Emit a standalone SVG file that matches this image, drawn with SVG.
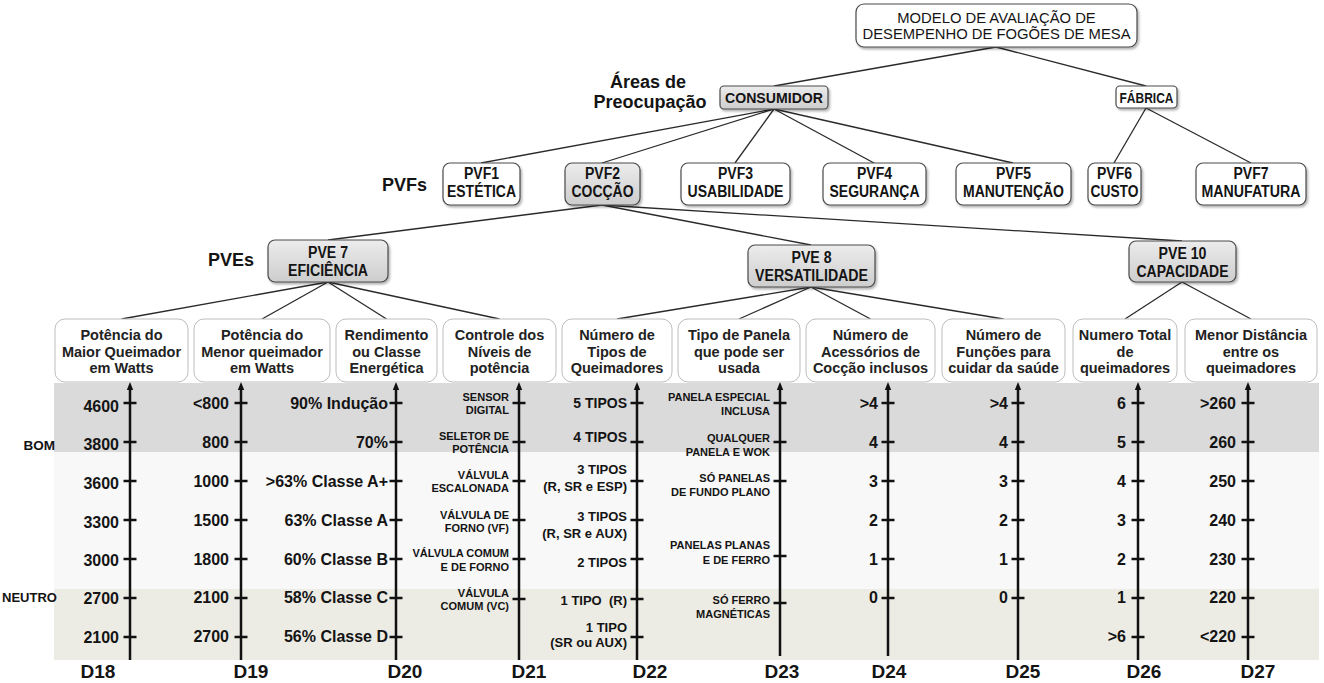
<svg xmlns="http://www.w3.org/2000/svg" width="1324" height="683" viewBox="0 0 1324 683">
<defs>
<style>
text{font-family:"Liberation Sans",Arial,sans-serif;fill:#141414}
.box{fill:#fff;stroke:#4a4a4a;stroke-width:1.2}
.gbox{fill:url(#gr);stroke:#4a4a4a;stroke-width:1.2}
.crit{fill:#fff;stroke:#bdbdbd;stroke-width:1}
.nar{font-size:16px;font-weight:bold;text-anchor:middle}
.top{font-size:14.8px;text-anchor:middle}
.ct{font-size:14.5px;font-weight:bold;text-anchor:middle;fill:#222}
.big{font-size:18px;font-weight:bold}
.num{font-size:16px;font-weight:bold;text-anchor:end}
.sm{font-size:11px;font-weight:bold;text-anchor:end}
.md{font-size:13px;font-weight:bold;text-anchor:end}
.dl{font-size:19px;font-weight:bold;text-anchor:middle}
.side{font-size:13.5px;font-weight:bold;text-anchor:end}
.con line{stroke:#2a2a2a;stroke-width:1.3}
.ax{stroke:#111;stroke-width:2.5;marker-start:url(#arr)}
.tk{stroke:#111;stroke-width:2.6}
</style>
<linearGradient id="gr" x1="0" y1="0" x2="0" y2="1">
<stop offset="0" stop-color="#ececec"/><stop offset="1" stop-color="#cdcdcd"/>
</linearGradient>
<filter id="sh" x="-10%" y="-10%" width="130%" height="140%">
<feDropShadow dx="1.5" dy="2" stdDeviation="1.2" flood-color="#000" flood-opacity="0.3"/>
</filter>
<marker id="arr" viewBox="0 0 8 8" refX="2" refY="4" markerWidth="8" markerHeight="8" markerUnits="userSpaceOnUse" orient="auto-start-reverse">
<path d="M0,0.8 L8,4 L0,7.2 z" fill="#111"/>
</marker>
</defs>

<g id="bands">
<rect x="54" y="383" width="1265" height="69" fill="#dadada"/>
<rect x="54" y="452" width="1265" height="137" fill="#f8f8f8"/>
<rect x="54" y="589" width="1265" height="71" fill="#edece4"/>
</g>

<g id="connectors" class="con">
<line x1="996" y1="47" x2="774" y2="86"/>
<line x1="996" y1="47" x2="1146" y2="86"/>
<line x1="774" y1="109" x2="481" y2="163"/>
<line x1="774" y1="109" x2="602" y2="163"/>
<line x1="774" y1="109" x2="735" y2="163"/>
<line x1="774" y1="109" x2="874" y2="163"/>
<line x1="774" y1="109" x2="1013" y2="163"/>
<line x1="1146" y1="108" x2="1114" y2="163"/>
<line x1="1146" y1="108" x2="1251" y2="163"/>
<line x1="602" y1="205" x2="328" y2="240"/>
<line x1="602" y1="205" x2="811" y2="245"/>
<line x1="602" y1="205" x2="1182" y2="241"/>
<line x1="328" y1="282" x2="121.5" y2="319"/>
<line x1="328" y1="282" x2="262" y2="319"/>
<line x1="328" y1="282" x2="386.5" y2="319"/>
<line x1="328" y1="282" x2="499.5" y2="319"/>
<line x1="811" y1="287" x2="617" y2="319"/>
<line x1="811" y1="287" x2="739" y2="319"/>
<line x1="811" y1="287" x2="870.5" y2="319"/>
<line x1="811" y1="287" x2="1003.5" y2="319"/>
<line x1="1182" y1="282" x2="1125" y2="319"/>
<line x1="1182" y1="282" x2="1251" y2="319"/>
</g>

<g id="root">
<rect class="box" x="856" y="4" width="281" height="43" rx="8" filter="url(#sh)"/>
<text class="top" x="996.5" y="23">MODELO DE AVALIAÇÃO DE</text>
<text class="top" x="996.5" y="39">DESEMPENHO DE FOGÕES DE MESA</text>
</g>

<g id="lbl-areas">
<text class="big" x="648" y="88" text-anchor="middle">Áreas de</text>
<text class="big" x="650" y="108" text-anchor="middle">Preocupação</text>
</g>
<g id="lbl-pvfs"><text class="big" x="382" y="191">PVFs</text></g>
<g id="lbl-pves"><text class="big" x="208" y="266">PVEs</text></g>

<g id="consumidor">
<rect class="gbox" x="720" y="86" width="108" height="23" rx="4" filter="url(#sh)"/>
<text class="nar" x="774" y="103" style="font-size:15px" textLength="98" lengthAdjust="spacingAndGlyphs">CONSUMIDOR</text>
</g>
<g id="fabrica">
<rect class="box" x="1116" y="86" width="61" height="22" rx="4" filter="url(#sh)"/>
<text class="nar" x="1146.5" y="103" style="font-size:15px" textLength="54" lengthAdjust="spacingAndGlyphs">FÁBRICA</text>
</g>

<g id="pvf1">
<rect class="box" x="443" y="163" width="77" height="42" rx="7" filter="url(#sh)"/>
<text class="nar" x="481.5" y="179" textLength="35" lengthAdjust="spacingAndGlyphs">PVF1</text>
<text class="nar" x="481.5" y="197" textLength="69" lengthAdjust="spacingAndGlyphs">ESTÉTICA</text>
</g>
<g id="pvf2">
<rect class="gbox" x="565" y="163" width="75" height="42" rx="7" filter="url(#sh)"/>
<text class="nar" x="602.5" y="179" textLength="35" lengthAdjust="spacingAndGlyphs">PVF2</text>
<text class="nar" x="602.5" y="197" textLength="62" lengthAdjust="spacingAndGlyphs">COCÇÃO</text>
</g>
<g id="pvf3">
<rect class="box" x="681" y="163" width="109" height="42" rx="7" filter="url(#sh)"/>
<text class="nar" x="735.5" y="179" textLength="35" lengthAdjust="spacingAndGlyphs">PVF3</text>
<text class="nar" x="735.5" y="197" textLength="96" lengthAdjust="spacingAndGlyphs">USABILIDADE</text>
</g>
<g id="pvf4">
<rect class="box" x="823" y="163" width="103" height="42" rx="7" filter="url(#sh)"/>
<text class="nar" x="874.5" y="179" textLength="35" lengthAdjust="spacingAndGlyphs">PVF4</text>
<text class="nar" x="874.5" y="197" textLength="90" lengthAdjust="spacingAndGlyphs">SEGURANÇA</text>
</g>
<g id="pvf5">
<rect class="box" x="956" y="163" width="115" height="42" rx="7" filter="url(#sh)"/>
<text class="nar" x="1013.5" y="179" textLength="35" lengthAdjust="spacingAndGlyphs">PVF5</text>
<text class="nar" x="1013.5" y="197" textLength="101" lengthAdjust="spacingAndGlyphs">MANUTENÇÃO</text>
</g>
<g id="pvf6">
<rect class="box" x="1088" y="163" width="53" height="42" rx="7" filter="url(#sh)"/>
<text class="nar" x="1114.5" y="179" textLength="35" lengthAdjust="spacingAndGlyphs">PVF6</text>
<text class="nar" x="1114.5" y="197" textLength="48" lengthAdjust="spacingAndGlyphs">CUSTO</text>
</g>
<g id="pvf7">
<rect class="box" x="1196" y="163" width="110" height="42" rx="7" filter="url(#sh)"/>
<text class="nar" x="1251" y="179" textLength="35" lengthAdjust="spacingAndGlyphs">PVF7</text>
<text class="nar" x="1251" y="197" textLength="99" lengthAdjust="spacingAndGlyphs">MANUFATURA</text>
</g>

<g id="pve7">
<rect class="gbox" x="268" y="240" width="120" height="42" rx="7" filter="url(#sh)"/>
<text class="nar" x="328" y="258" textLength="40" lengthAdjust="spacingAndGlyphs">PVE 7</text>
<text class="nar" x="328" y="276" textLength="80" lengthAdjust="spacingAndGlyphs">EFICIÊNCIA</text>
</g>
<g id="pve8">
<rect class="gbox" x="748" y="245" width="127" height="42" rx="7" filter="url(#sh)"/>
<text class="nar" x="811.5" y="263" textLength="40" lengthAdjust="spacingAndGlyphs">PVE 8</text>
<text class="nar" x="811.5" y="281" textLength="113" lengthAdjust="spacingAndGlyphs">VERSATILIDADE</text>
</g>
<g id="pve10">
<rect class="gbox" x="1129" y="241" width="107" height="41" rx="7" filter="url(#sh)"/>
<text class="nar" x="1182.5" y="259" textLength="48" lengthAdjust="spacingAndGlyphs">PVE 10</text>
<text class="nar" x="1182.5" y="277" textLength="92" lengthAdjust="spacingAndGlyphs">CAPACIDADE</text>
</g>

<g id="c18"><rect class="crit" x="55" y="319" width="133" height="63" rx="10"/>
<text class="ct" x="121.5" y="340">Potência do</text><text class="ct" x="121.5" y="356.5">Maior Queimador</text><text class="ct" x="121.5" y="373">em Watts</text></g>
<g id="c19"><rect class="crit" x="194" y="319" width="136" height="63" rx="10"/>
<text class="ct" x="262" y="340">Potência do</text><text class="ct" x="262" y="356.5">Menor queimador</text><text class="ct" x="262" y="373">em Watts</text></g>
<g id="c20"><rect class="crit" x="336" y="319" width="101" height="63" rx="10"/>
<text class="ct" x="386.5" y="340">Rendimento</text><text class="ct" x="386.5" y="356.5">ou Classe</text><text class="ct" x="386.5" y="373">Energética</text></g>
<g id="c21"><rect class="crit" x="443" y="319" width="113" height="63" rx="10"/>
<text class="ct" x="499.5" y="340">Controle dos</text><text class="ct" x="499.5" y="356.5">Níveis de</text><text class="ct" x="499.5" y="373">potência</text></g>
<g id="c22"><rect class="crit" x="562" y="319" width="110" height="63" rx="10"/>
<text class="ct" x="617" y="340">Número de</text><text class="ct" x="617" y="356.5">Tipos de</text><text class="ct" x="617" y="373">Queimadores</text></g>
<g id="c23"><rect class="crit" x="678" y="319" width="122" height="63" rx="10"/>
<text class="ct" x="739" y="340">Tipo de Panela</text><text class="ct" x="739" y="356.5">que pode ser</text><text class="ct" x="739" y="373">usada</text></g>
<g id="c24"><rect class="crit" x="806" y="319" width="129" height="63" rx="10"/>
<text class="ct" x="870.5" y="340">Número de</text><text class="ct" x="870.5" y="356.5">Acessórios de</text><text class="ct" x="870.5" y="373">Cocção inclusos</text></g>
<g id="c25"><rect class="crit" x="942" y="319" width="123" height="63" rx="10"/>
<text class="ct" x="1003.5" y="340">Número de</text><text class="ct" x="1003.5" y="356.5">Funções para</text><text class="ct" x="1003.5" y="373">cuidar da saúde</text></g>
<g id="c26"><rect class="crit" x="1073" y="319" width="104" height="63" rx="10"/>
<text class="ct" x="1125" y="340">Numero Total</text><text class="ct" x="1125" y="356.5">de</text><text class="ct" x="1125" y="373">queimadores</text></g>
<g id="c27"><rect class="crit" x="1185" y="319" width="132" height="63" rx="10"/>
<text class="ct" x="1251" y="340">Menor Distância</text><text class="ct" x="1251" y="356.5">entre os</text><text class="ct" x="1251" y="373">queimadores</text></g>

<g id="side-labels">
<text class="side" x="55" y="450">BOM</text>
<text class="side" x="2" y="602" style="text-anchor:start;font-size:13px">NEUTRO</text>
</g>

<g id="scales">
<line class="ax" x1="130" y1="388" x2="130" y2="660"/>
<line class="ax" x1="241" y1="388" x2="241" y2="660"/>
<line class="ax" x1="396" y1="388" x2="396" y2="660"/>
<line class="ax" x1="519" y1="388" x2="519" y2="660"/>
<line class="ax" x1="637" y1="388" x2="637" y2="660"/>
<line class="ax" x1="780" y1="388" x2="780" y2="656"/>
<line class="ax" x1="888" y1="388" x2="888" y2="656"/>
<line class="ax" x1="1018" y1="388" x2="1018" y2="660"/>
<line class="ax" x1="1138" y1="388" x2="1138" y2="660"/>
<line class="ax" x1="1248" y1="388" x2="1248" y2="660"/>
<path class="tk" d="M123.5,403h13M123.5,442h13M123.5,481h13M123.5,520h13M123.5,559h13M123.5,598h13M123.5,637h13
M234.5,403h13M234.5,442h13M234.5,481h13M234.5,520h13M234.5,559h13M234.5,598h13M234.5,637h13
M389.5,403h13M389.5,442h13M389.5,481h13M389.5,520h13M389.5,559h13M389.5,598h13M389.5,637h13
M512.5,403h13M512.5,442h13M512.5,481h13M512.5,520h13M512.5,559h13M512.5,599h13
M630.5,403h13M630.5,442h13M630.5,481h13M630.5,520h13M630.5,559h13M630.5,599h13M630.5,637h13
M773.5,403h13M773.5,442h13M773.5,481h13M773.5,556h13M773.5,603h13
M881.5,403h13M881.5,442h13M881.5,481h13M881.5,520h13M881.5,559h13M881.5,598h13
M1011.5,403h13M1011.5,442h13M1011.5,481h13M1011.5,520h13M1011.5,559h13M1011.5,598h13
M1131.5,403h13M1131.5,442h13M1131.5,481h13M1131.5,520h13M1131.5,559h13M1131.5,598h13M1131.5,637h13
M1241.5,403h13M1241.5,442h13M1241.5,481h13M1241.5,520h13M1241.5,559h13M1241.5,598h13M1241.5,637h13"/>
</g>

<g id="d18-values">
<text class="num" x="119" y="412">4600</text><text class="num" x="119" y="450">3800</text><text class="num" x="119" y="489">3600</text><text class="num" x="119" y="528">3300</text><text class="num" x="119" y="566">3000</text><text class="num" x="119" y="604">2700</text><text class="num" x="119" y="643">2100</text>
</g>
<g id="d19-values">
<text class="num" x="229" y="409">&lt;800</text><text class="num" x="229" y="448">800</text><text class="num" x="229" y="487">1000</text><text class="num" x="229" y="526">1500</text><text class="num" x="229" y="565">1800</text><text class="num" x="229" y="603">2100</text><text class="num" x="229" y="642">2700</text>
</g>
<g id="d20-values">
<text class="num" x="388" y="409">90% Indução</text><text class="num" x="388" y="448">70%</text><text class="num" x="388" y="487">&gt;63% Classe A+</text><text class="num" x="388" y="526">63% Classe A</text><text class="num" x="388" y="565">60% Classe B</text><text class="num" x="388" y="603">58% Classe C</text><text class="num" x="388" y="642">56% Classe D</text>
</g>
<g id="d21-values">
<text class="sm" x="509" y="400.5">SENSOR</text><text class="sm" x="509" y="413.5">DIGITAL</text>
<text class="sm" x="509" y="439.5">SELETOR DE</text><text class="sm" x="509" y="452.5">POTÊNCIA</text>
<text class="sm" x="509" y="478.5">VÁLVULA</text><text class="sm" x="509" y="491.5">ESCALONADA</text>
<text class="sm" x="509" y="518.5">VÁLVULA DE</text><text class="sm" x="509" y="531.5">FORNO (VF)</text>
<text class="sm" x="509" y="556.5">VÁLVULA COMUM</text><text class="sm" x="509" y="570.5">E DE FORNO</text>
<text class="sm" x="509" y="596.5">VÁLVULA</text><text class="sm" x="509" y="609.5">COMUM (VC)</text>
</g>
<g id="d22-values">
<text class="md" x="627" y="408" style="font-size:14px">5 TIPOS</text>
<text class="md" x="627" y="442" style="font-size:14px">4 TIPOS</text>
<text class="md" x="627" y="474">3 TIPOS</text><text class="md" x="627" y="491">(R, SR e ESP)</text>
<text class="md" x="627" y="521">3 TIPOS</text><text class="md" x="627" y="538">(R, SR e AUX)</text>
<text class="md" x="627" y="567">2 TIPOS</text>
<text class="md" x="627" y="605" style="white-space:pre">1 TIPO  (R)</text>
<text class="md" x="627" y="632">1 TIPO</text><text class="md" x="627" y="647">(SR ou AUX)</text>
</g>
<g id="d23-values">
<text class="sm" x="770" y="400.5">PANELA ESPECIAL</text><text class="sm" x="770" y="414.5">INCLUSA</text>
<text class="sm" x="770" y="441.5">QUALQUER</text><text class="sm" x="770" y="455.5">PANELA E WOK</text>
<text class="sm" x="770" y="481.5">SÓ PANELAS</text><text class="sm" x="770" y="495.5">DE FUNDO PLANO</text>
<text class="sm" x="770" y="549">PANELAS PLANAS</text><text class="sm" x="770" y="563.5">E DE FERRO</text>
<text class="sm" x="770" y="603.5">SÓ FERRO</text><text class="sm" x="770" y="617.5">MAGNÉTICAS</text>
</g>
<g id="d24-values">
<text class="num" x="878" y="409">&gt;4</text><text class="num" x="878" y="448">4</text><text class="num" x="878" y="487">3</text><text class="num" x="878" y="526">2</text><text class="num" x="878" y="565">1</text><text class="num" x="878" y="603">0</text>
</g>
<g id="d25-values">
<text class="num" x="1008" y="409">&gt;4</text><text class="num" x="1008" y="448">4</text><text class="num" x="1008" y="487">3</text><text class="num" x="1008" y="526">2</text><text class="num" x="1008" y="565">1</text><text class="num" x="1008" y="603">0</text>
</g>
<g id="d26-values">
<text class="num" x="1126" y="409">6</text><text class="num" x="1126" y="448">5</text><text class="num" x="1126" y="487">4</text><text class="num" x="1126" y="526">3</text><text class="num" x="1126" y="565">2</text><text class="num" x="1126" y="603">1</text><text class="num" x="1126" y="642">&gt;6</text>
</g>
<g id="d27-values">
<text class="num" x="1236" y="409">&gt;260</text><text class="num" x="1236" y="448">260</text><text class="num" x="1236" y="487">250</text><text class="num" x="1236" y="526">240</text><text class="num" x="1236" y="565">230</text><text class="num" x="1236" y="603">220</text><text class="num" x="1236" y="642">&lt;220</text>
</g>

<g id="d-labels">
<text class="dl" x="98" y="678">D18</text>
<text class="dl" x="251" y="678">D19</text>
<text class="dl" x="405" y="678">D20</text>
<text class="dl" x="529" y="678">D21</text>
<text class="dl" x="650" y="678">D22</text>
<text class="dl" x="782" y="678">D23</text>
<text class="dl" x="889" y="678">D24</text>
<text class="dl" x="1023" y="678">D25</text>
<text class="dl" x="1144" y="678">D26</text>
<text class="dl" x="1258" y="678">D27</text>
</g>
</svg>
